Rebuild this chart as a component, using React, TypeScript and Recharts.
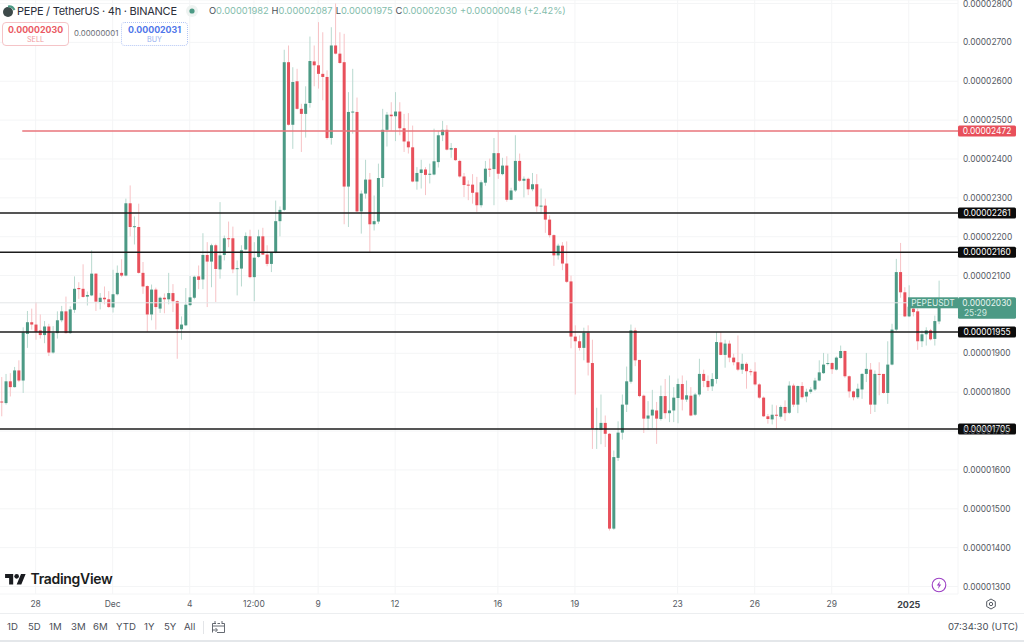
import { ComposedChart, Bar, XAxis, YAxis, CartesianGrid, ReferenceLine } from 'recharts'

// all prices are in units of 0.00000001 USDT, one value per 4h candle
const opens = [
  1776, 1772, 1828, 1813, 1856, 1830, 1950, 1980, 1974, 1959,
  1947, 1969, 1902, 1952, 1985, 2008, 1952, 2012, 2068, 2066,
  2046, 2049, 2105, 2032, 2043, 2039, 2018, 2052, 2107, 2100,
  2286, 2225, 2225, 2107, 2073, 2000, 2064, 2015, 2043, 2039,
  2055, 2034, 1962, 1972, 2024, 2043, 2098, 2090, 2153, 2136,
  2178, 2116, 2153, 2196, 2196, 2117, 2118, 2167, 2201, 2096,
  2148, 2201, 2154, 2130, 2159, 2240, 2269, 2649, 2488, 2600,
  2529, 2516, 2544, 2651, 2641, 2619, 2611, 2454, 2692, 2671,
  2649, 2329, 2521, 2521, 2265, 2311, 2347, 2232, 2239, 2351,
  2475, 2514, 2510, 2522, 2479, 2445, 2430, 2342, 2364, 2373,
  2361, 2360, 2392, 2461, 2475, 2424, 2428, 2395, 2355, 2334,
  2334, 2314, 2281, 2339, 2375, 2374, 2415, 2361, 2383, 2295,
  2319, 2395, 2344, 2349, 2322, 2335, 2278, 2280, 2244, 2204,
  2152, 2177, 2131, 2085, 1943, 1931, 1914, 1953, 1875, 1705,
  1703, 1721, 1693, 1449, 1631, 1696, 1768, 1827, 1959, 1883,
  1791, 1732, 1740, 1753, 1731, 1790, 1746, 1753, 1785, 1821,
  1781, 1791, 1742, 1794, 1847, 1829, 1815, 1834, 1928, 1896,
  1925, 1889, 1877, 1858, 1873, 1854, 1853, 1820, 1786, 1738,
  1730, 1742, 1737, 1762, 1747, 1817, 1768, 1816, 1789, 1801,
  1807, 1830, 1849, 1873, 1875, 1858, 1888, 1906, 1841, 1802,
  1787, 1807, 1847, 1858, 1768, 1847, 1847, 1798, 1871, 1961,
  2109, 2057, 1995, 2015, 2008, 1931, 1949, 1959, 1937, 1982,
]
const closes = [
  1774, 1828, 1813, 1856, 1830, 1954, 1980, 1974, 1955, 1947,
  1969, 1902, 1953, 1985, 2008, 1952, 2013, 2066, 2065, 2045,
  2050, 2105, 2033, 2043, 2039, 2019, 2052, 2107, 2100, 2286,
  2225, 2227, 2107, 2072, 2000, 2064, 2019, 2043, 2039, 2055,
  2034, 1962, 1974, 2025, 2044, 2097, 2089, 2153, 2136, 2178,
  2117, 2152, 2196, 2195, 2116, 2119, 2165, 2202, 2096, 2146,
  2201, 2154, 2130, 2159, 2240, 2269, 2649, 2488, 2598, 2529,
  2516, 2542, 2652, 2641, 2619, 2611, 2454, 2692, 2671, 2647,
  2329, 2521, 2522, 2265, 2311, 2347, 2232, 2240, 2351, 2475,
  2514, 2510, 2522, 2479, 2445, 2430, 2342, 2364, 2373, 2359,
  2362, 2394, 2461, 2475, 2424, 2428, 2397, 2355, 2333, 2333,
  2313, 2281, 2340, 2375, 2374, 2415, 2362, 2383, 2295, 2319,
  2395, 2344, 2349, 2322, 2335, 2278, 2280, 2244, 2204, 2152,
  2177, 2131, 2084, 1943, 1931, 1914, 1953, 1876, 1706, 1707,
  1721, 1693, 1449, 1633, 1696, 1768, 1828, 1959, 1882, 1790,
  1732, 1740, 1755, 1732, 1790, 1746, 1753, 1786, 1821, 1781,
  1792, 1740, 1794, 1847, 1829, 1813, 1834, 1929, 1896, 1925,
  1889, 1877, 1858, 1873, 1854, 1853, 1820, 1786, 1738, 1731,
  1742, 1741, 1762, 1746, 1817, 1768, 1816, 1787, 1801, 1807,
  1830, 1851, 1871, 1875, 1859, 1889, 1906, 1841, 1802, 1787,
  1809, 1847, 1860, 1768, 1847, 1846, 1798, 1871, 1961, 2109,
  2057, 1995, 2020, 2006, 1931, 1949, 1959, 1936, 1983, 2030,
]
const highs = [
  1839, 1847, 1849, 1865, 1882, 1967, 2009, 2015, 2032, 2000,
  1983, 1976, 1970, 2008, 2022, 2046, 2021, 2098, 2083, 2129,
  2059, 2165, 2106, 2055, 2072, 2060, 2115, 2126, 2142, 2298,
  2332, 2252, 2285, 2135, 2075, 2077, 2069, 2046, 2054, 2107,
  2078, 2036, 1995, 2068, 2099, 2100, 2126, 2209, 2186, 2182,
  2182, 2289, 2203, 2239, 2226, 2139, 2178, 2211, 2218, 2186,
  2218, 2223, 2178, 2160, 2293, 2278, 2681, 2692, 2636, 2632,
  2542, 2587, 2715, 2692, 2752, 2726, 2628, 2739, 2800, 2726,
  2722, 2572, 2632, 2558, 2319, 2398, 2364, 2306, 2388, 2529,
  2521, 2546, 2572, 2546, 2516, 2518, 2486, 2379, 2398, 2379,
  2388, 2478, 2472, 2498, 2487, 2441, 2429, 2398, 2364, 2345,
  2361, 2354, 2345, 2395, 2401, 2454, 2470, 2403, 2407, 2326,
  2461, 2414, 2355, 2352, 2364, 2361, 2324, 2298, 2255, 2206,
  2182, 2186, 2188, 2100, 1972, 1946, 1966, 1972, 1935, 1760,
  1794, 1740, 1695, 1650, 1725, 1794, 1866, 1974, 1966, 1883,
  1794, 1777, 1806, 1775, 1817, 1834, 1843, 1813, 1835, 1843,
  1830, 1813, 1798, 1886, 1858, 1843, 1849, 1955, 1955, 1935,
  1933, 1899, 1946, 1899, 1877, 1860, 1877, 1823, 1789, 1744,
  1768, 1766, 1766, 1779, 1828, 1822, 1817, 1826, 1809, 1813,
  1837, 1882, 1901, 1899, 1877, 1892, 1920, 1907, 1843, 1804,
  1822, 1849, 1901, 1875, 1856, 1877, 1847, 1931, 1976, 2143,
  2184, 2070, 2075, 2025, 2015, 1959, 1967, 1963, 1997, 2087,
]
const lows = [
  1738, 1768, 1789, 1812, 1826, 1798, 1914, 1961, 1935, 1938,
  1926, 1893, 1899, 1938, 1980, 1951, 1950, 2004, 2040, 2043,
  2023, 2047, 2009, 2013, 2026, 2017, 2005, 2049, 2096, 2098,
  2201, 2180, 2105, 2053, 1955, 1985, 1961, 2004, 2003, 2026,
  2006, 1886, 1935, 1970, 2021, 2039, 2065, 2065, 2019, 2070,
  2032, 2092, 2139, 2173, 2106, 2049, 2072, 2165, 2093, 2034,
  2146, 2153, 2124, 2109, 2157, 2201, 2266, 2486, 2426, 2527,
  2418, 2455, 2532, 2587, 2581, 2551, 2450, 2437, 2669, 2645,
  2232, 2225, 2465, 2263, 2208, 2298, 2160, 2216, 2233, 2328,
  2432, 2473, 2446, 2461, 2418, 2414, 2340, 2321, 2324, 2307,
  2337, 2358, 2378, 2446, 2422, 2403, 2395, 2352, 2302, 2294,
  2285, 2264, 2275, 2331, 2354, 2281, 2349, 2358, 2290, 2294,
  2315, 2341, 2301, 2307, 2317, 2264, 2259, 2210, 2198, 2125,
  2141, 2114, 2081, 1913, 1794, 1907, 1882, 1843, 1654, 1654,
  1666, 1659, 1444, 1446, 1623, 1678, 1749, 1822, 1867, 1787,
  1695, 1703, 1708, 1667, 1727, 1732, 1723, 1723, 1720, 1753,
  1775, 1738, 1739, 1789, 1813, 1803, 1803, 1822, 1895, 1863,
  1877, 1869, 1854, 1847, 1809, 1843, 1817, 1783, 1736, 1719,
  1717, 1706, 1732, 1726, 1744, 1762, 1746, 1783, 1774, 1796,
  1803, 1828, 1847, 1869, 1847, 1856, 1886, 1837, 1786, 1779,
  1783, 1783, 1826, 1744, 1749, 1792, 1796, 1770, 1869, 1957,
  2043, 1993, 1993, 1995, 1909, 1916, 1920, 1933, 1920, 1975,
]

// candle slots on the time axis that carry a label (Dec 6 12:00 is the only intraday one)
const timeTickSlots = [8, 26, 44, 59, 74, 92, 116, 134, 158, 176, 194, 212]
const timeTickLabels = ['28', 'Dec', '4', '12:00', '9', '12', '16', '19', '23', '26', '29', '2025']
const emptySlotsRight = 4

const priceTicks = [1300, 1400, 1500, 1600, 1700, 1800, 1900, 2000, 2100, 2200, 2300, 2400, 2500, 2600, 2700, 2800]
const priceDomain = [1280.8, 2809]
const supportLevels = [2261, 2160, 1955, 1705]
const alertLevel = 2472
const lastPrice = 2030
// this tick label sits under the last price tag on the axis
const hiddenPriceTick = 2000

const rangeButtons = ['1D', '5D', '1M', '3M', '6M', 'YTD', '1Y', '5Y', 'All']

const GREEN = '#4c9a85'
const RED = '#e8505b'
const FONT = 'Inter, sans-serif'

const chartData = [...opens, ...Array(emptySlotsRight).fill(null)].map((open, i) =>
  open === null
    ? { slot: i }
    : { slot: i, open, close: closes[i], high: highs[i], low: lows[i], range: [lows[i], highs[i]] },
)

const formatPrice = (v: number) => (v / 1e8).toFixed(8)

function Candle(props: any) {
  const { x, y, width, height, payload } = props
  if (!payload || payload.open === undefined) return null
  const { open, close, high, low } = payload
  const up = close >= open
  const cx = x + width / 2
  const h = Math.abs(height)
  const top = Math.min(y, y + height)
  const k = h / (high - low)
  const bodyTop = top + (high - Math.max(open, close)) * k
  const bodyH = Math.max(Math.abs(open - close) * k, 1)
  return (
    <g>
      <line x1={cx} x2={cx} y1={top} y2={top + h} stroke={up ? '#b8d9cf' : '#f7c3c6'} strokeWidth={1} />
      <rect x={x} y={bodyTop} width={width} height={bodyH} fill={up ? GREEN : RED} />
    </g>
  )
}

function TimeTick({ x, y, payload }: any) {
  const label = timeTickLabels[timeTickSlots.indexOf(payload.value)]
  const strong = label === '2025'
  return (
    <text x={x} y={y} textAnchor="middle" dominantBaseline="central" fontFamily={FONT}
      fontSize={strong ? 9 : 8.5} fontWeight={strong ? 700 : 400} fill={strong ? '#3b3f47' : '#555a63'}>
      {label}
    </text>
  )
}

function PriceTick({ x, y, payload }: any) {
  if (payload.value === hiddenPriceTick) return null
  return (
    <text x={x} y={y} dominantBaseline="central" fontFamily={FONT} fontSize={8.4} fill="#555a63">
      {formatPrice(payload.value)}
    </text>
  )
}

function levelShape(level: number, stroke: string, strokeWidth: number, tagFill: string, startAt = 0) {
  return (p: any) => {
    const { x1, x2, y1, y2 } = p
    const right = Math.max(x1, x2)
    const left = Math.min(x1, x2) + startAt
    return (
      <g>
        <line x1={left} x2={right} y1={y1} y2={y2} stroke={stroke} strokeWidth={strokeWidth} />
        <rect x={right} y={y1 - 5.5} width={58} height={11} rx={1.5} fill={tagFill} />
        <text x={right + 29} y={y1} textAnchor="middle" dominantBaseline="central" fontFamily={FONT}
          fontSize={8.4} fill="#fff">
          {formatPrice(level)}
        </text>
      </g>
    )
  }
}

function lastPriceShape(p: any) {
  const { x1, x2, y1 } = p
  const right = Math.max(x1, x2)
  return (
    <g fontFamily={FONT}>
      <rect x={right - 50} y={y1 - 5.5} width={50} height={11} fill={GREEN} />
      <text x={right - 25} y={y1} textAnchor="middle" dominantBaseline="central" fontSize={8.4} fill="#dff0ea">
        PEPEUSDT
      </text>
      <rect x={right} y={y1 - 5.5} width={58} height={21.5} rx={1.5} fill={GREEN} />
      <text x={right + 29} y={y1} textAnchor="middle" dominantBaseline="central" fontSize={8.4} fill="#e8f4f0">
        {formatPrice(lastPrice)}
      </text>
      <text x={right + 6} y={y1 + 10} dominantBaseline="central" fontSize={8.4} fill="#d3e9e2">
        25:29
      </text>
    </g>
  )
}

const abs = (left: number, top: number, extra: any = {}) => ({ position: 'absolute', left, top, whiteSpace: 'nowrap', ...extra }) as any

function Header() {
  const ohlc = [
    ['O', '0.00001982'],
    ['H', '0.00002087'],
    ['L', '0.00001975'],
    ['C', '0.00002030'],
  ]
  return (
    <>
      <svg style={abs(2, 4)} width={14} height={14} viewBox="0 0 14 14">
        <circle cx={6} cy={8} r={5} fill="#3d4a4a" />
        <path d="M6 2.5 A6 6 0 0 1 12.5 6" fill="none" stroke="#4c9a85" strokeWidth={2} />
      </svg>
      <div style={abs(17, 3, { fontSize: 11, lineHeight: '16px', letterSpacing: -0.25, color: '#2a2e39' })}>
        PEPE / TetherUS · 4h · BINANCE
      </div>
      <svg style={abs(184, 3)} width={16} height={16}>
        <circle cx={8} cy={8} r={6} fill="#eef3f1" />
        <circle cx={8} cy={8} r={2.6} fill={GREEN} />
      </svg>
      <div style={abs(209, 4, { fontSize: 9.3, lineHeight: '14px', color: '#84bdac', display: 'flex', gap: 3 })}>
        {ohlc.map(([k, v]) => (
          <span key={k}>
            <span style={{ color: '#4a4e57' }}>{k}</span>
            {v}
          </span>
        ))}
        <span>+0.00000048 (+2.42%)</span>
      </div>
      <div style={abs(2, 22, { width: 65, height: 22, border: '1px solid #f5c4c7', borderRadius: 4, textAlign: 'center', background: '#fff' })}>
        <div style={{ fontSize: 8.8, lineHeight: '11px', marginTop: 1, fontWeight: 700, color: '#ea5a63' }}>0.00002030</div>
        <div style={{ fontSize: 7.2, lineHeight: '9px', color: '#f0989d' }}>SELL</div>
      </div>
      <div style={abs(74, 28, { fontSize: 7.8, lineHeight: '11px', color: '#6a6e76' })}>0.00000001</div>
      <div style={abs(121, 22, { width: 65, height: 22, border: '1px dotted #b4c6f5', borderRadius: 4, textAlign: 'center', background: '#fff' })}>
        <div style={{ fontSize: 8.8, lineHeight: '11px', marginTop: 1, fontWeight: 700, color: '#4f76ea' }}>0.00002031</div>
        <div style={{ fontSize: 7.2, lineHeight: '9px', color: '#9bb2f0' }}>BUY</div>
      </div>
    </>
  )
}

function Footer() {
  const buttonX = [7, 28, 49, 71, 93, 116, 144, 164, 184]
  return (
    <>
      <svg style={abs(5, 574)} width={21} height={11} viewBox="0 0 36 19">
        <path d="M14 18H7V7H0V0h14v18zM28 18h-8L27.5 0h8L28 18z" fill="#1a1c20" />
        <circle cx={20} cy={4} r={4} fill="#1a1c20" />
      </svg>
      <div style={abs(30.5, 570, { fontSize: 14, lineHeight: '18px', fontWeight: 600, letterSpacing: -0.3, color: '#1a1c20' })}>
        TradingView
      </div>
      <svg style={abs(931, 577)} width={16} height={16} viewBox="0 0 16 16">
        <circle cx={8} cy={8} r={6.8} fill="#fff" stroke="#9c3fc4" strokeWidth={1.1} />
        <path d="M9 4 L5.8 8.6 H7.8 L7 12 L10.2 7.4 H8.2 Z" fill="#9c3fc4" />
      </svg>
      <svg style={abs(985, 598)} width={12} height={12} viewBox="0 0 12 12">
        <path d="M6 1 L10.3 3.5 V8.5 L6 11 L1.7 8.5 V3.5 Z" fill="none" stroke="#555a63" strokeWidth={1} />
        <circle cx={6} cy={6} r={1.7} fill="none" stroke="#555a63" strokeWidth={1} />
      </svg>
      <div style={abs(0, 613, { width: 1024, height: 1, background: '#eceef0' })} />
      {rangeButtons.map((b, i) => (
        <div key={b} style={abs(buttonX[i], 621, { fontSize: 9.6, lineHeight: '12px', color: '#4a4e57' })}>
          {b}
        </div>
      ))}
      <div style={abs(203, 621, { width: 1, height: 13, background: '#e3e5e8' })} />
      <svg style={abs(211, 620)} width={15} height={14} viewBox="0 0 15 14">
        <path d="M5 3.5 H1.5 V12.5 M11 3.5 H13.5 V12.5 H6 M4 1 V4 M11 1 V4 M6.5 3.5 H9 M2 6 H13 M1 10 H6 M4.5 8 L6.5 10 L4.5 12" fill="none" stroke="#555a63" strokeWidth={0.9} />
      </svg>
      <div style={abs(948, 621, { fontSize: 9.6, lineHeight: '12px', color: '#4a4e57' })}>07:34:30 (UTC)</div>
      <div style={abs(0, 640, { width: 1024, height: 2, background: '#e4e7ea' })} />
    </>
  )
}

export default function App() {
  return (
    <div style={{ position: 'absolute', left: 0, top: 0, width: 1024, height: 642, overflow: 'hidden', background: '#fff', fontFamily: FONT }}>
      <ComposedChart width={1024} height={642} data={chartData} margin={{ top: 0, right: 0, bottom: 29, left: -0.74 }}>
        <CartesianGrid stroke="#f4f5f6" strokeWidth={1} />
        <XAxis dataKey="slot" type="category" ticks={timeTickSlots} interval={0} height={19} axisLine={false} tickLine={false} tick={<TimeTick />} tickSize={0} tickMargin={10} />
        <YAxis orientation="right" type="number" width={66} domain={priceDomain} ticks={priceTicks} interval={0} allowDataOverflow axisLine={false} tickLine={false} tick={<PriceTick />} tickSize={0} tickMargin={5} />
        <ReferenceLine y={lastPrice} stroke="#e3e6e8" strokeWidth={1} />
        <Bar dataKey="range" barSize={3} shape={<Candle />} isAnimationActive={false} />
        <ReferenceLine y={alertLevel} shape={levelShape(alertLevel, '#e8757b', 1.5, RED, 23)} />
        {supportLevels.map((level) => (
          <ReferenceLine key={level} y={level} shape={levelShape(level, '#1c1c1c', 1.5, '#0c0c0c')} />
        ))}
        <ReferenceLine y={lastPrice} shape={lastPriceShape} />
      </ComposedChart>
      <Header />
      <Footer />
    </div>
  )
}
